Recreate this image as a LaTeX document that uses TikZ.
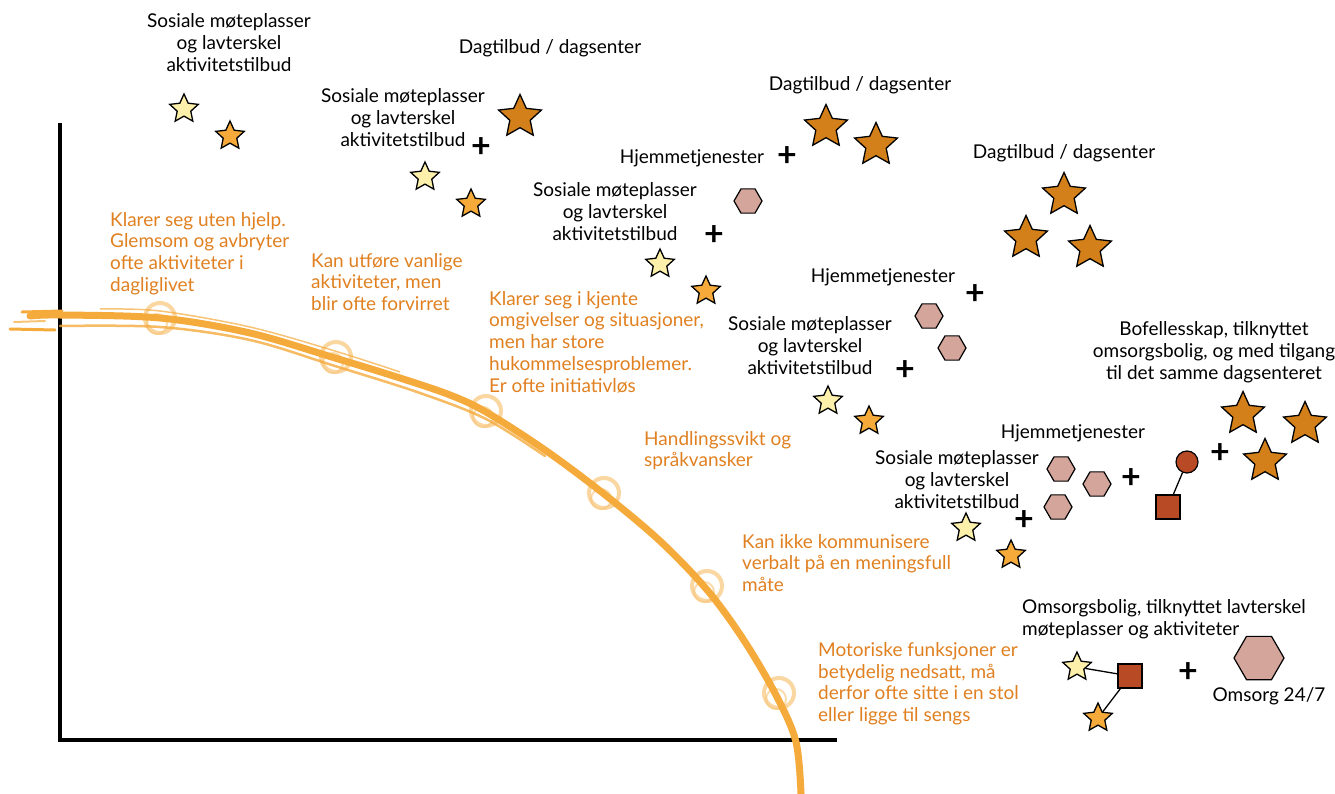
\documentclass[tikz,border=0pt]{standalone}
\usepackage{fontspec}
\setmainfont{Lato}
\usetikzlibrary{shapes.geometric}
\definecolor{txtor}{RGB}{224,128,32}
\definecolor{curvec}{RGB}{245,170,60}
\definecolor{ringc}{RGB}{248,196,120}
\definecolor{starlt}{RGB}{252,240,170}
\definecolor{staror}{RGB}{245,170,58}
\definecolor{stardk}{RGB}{212,128,26}
\definecolor{hexc}{RGB}{212,165,155}
\definecolor{redc}{RGB}{184,74,37}
\tikzset{
  blk/.style={font=\fontsize{19}{22}\selectfont, text=black, inner sep=0pt, align=center, anchor=north},
  orn/.style={font=\fontsize{19}{21.8}\selectfont, text=txtor, inner sep=0pt, align=left, anchor=north west},
  starbase/.style={star, star points=5, star point ratio=2.1, draw=black, line width=1.3pt, inner sep=0pt},
  slt/.style={starbase, fill=starlt, minimum size=30pt},
  sor/.style={starbase, fill=staror, minimum size=30pt},
  sdk/.style={starbase, fill=stardk, minimum size=45pt},
  hexs/.style={regular polygon, regular polygon sides=6, draw=black, line width=1.2pt, fill=hexc, inner sep=0pt, minimum size=28pt},
  hexb/.style={hexs, minimum size=50pt},
  sqr/.style={rectangle, draw=black, line width=1.2pt, fill=redc, minimum size=24pt, inner sep=0pt},
  circr/.style={circle, draw=black, line width=1.2pt, fill=redc, minimum size=22pt, inner sep=0pt},
  plusn/.style={font=\fontsize{34}{34}\selectfont\bfseries, inner sep=0pt, text=black},
  ring/.style={draw=ringc, line width=4pt, opacity=0.7},
  ringi/.style={draw=ringc, line width=2pt, opacity=0.6},
  conn/.style={draw=black, line width=1.3pt},
}
\begin{document}
\begin{tikzpicture}[x=1pt,y=-1pt]
\useasboundingbox (0,0) rectangle (1335,794);
% axes
\coordinate (ytop) at (60,123);
\coordinate (orig) at (60,740);
\coordinate (xend) at (837,740);
\draw[line width=4pt] (ytop) -- (orig) -- (xend);
% rings
\foreach \cx/\cy in {160/318, 336/357, 486/411, 604/493, 707/586, 779/693}{
  \draw[ring] (\cx,\cy) circle (15);
  \draw[ringi] (\cx-3,\cy+6) circle (10);
}
% curve
\draw[curvec, line width=7pt, line cap=round] plot[smooth, tension=0.55] coordinates {(30,316) (60,315) (160,318) (250,333) (335,358) (400,378) (450,395) (486,412) (545,450) (604,494) (660,541) (708,591) (745,642) (777,697) (796,742) (801,794)};
\draw[curvec, line width=2.5pt, line cap=round, opacity=0.8] plot[smooth, tension=0.55] coordinates {(60,326) (160,327) (250,340) (335,366) (420,393) (486,419) (545,456)};
\draw[curvec, line width=1.5pt, opacity=0.7] plot[smooth, tension=0.55] coordinates {(100,309) (160,311) (250,327) (335,351) (400,372)};
\draw[curvec, line width=3pt, line cap=round] (22,312) -- (62,311);
\draw[curvec, line width=3pt, line cap=round] (10,329) -- (55,330);
\draw[curvec, line width=2pt, line cap=round, opacity=0.7] (14,322) -- (45,321);
% orange texts
\node[orn] (o1) at (110,212) {Klarer seg uten hjelp.\\Glemsom og avbryter\\ofte aktiviteter i\\dagliglivet};
\node[orn] (o2) at (311,253) {Kan utføre vanlige\\aktiviteter, men\\blir ofte forvirret};
\node[orn] (o3) at (489,291) {Klarer seg i kjente\\omgivelser og situasjoner,\\men har store\\hukommelsesproblemer.\\Er ofte initiativløs};
\node[orn] (o4) at (644,431) {Handlingssvikt og\\språkvansker};
\node[orn] (o5) at (742,534) {Kan ikke kommunisere\\verbalt på en meningsfull\\måte};
\node[orn] (o6) at (818,642) {Motoriske funksjoner er\\betydelig nedsatt, må\\derfor ofte sitte i en stol\\eller ligge til sengs};
% stage 1
\node[blk] (t1) at (229,13) {Sosiale møteplasser\\og lavterskel\\aktivitetstilbud};
\node[slt] (s1a) at (184,109) {};
\node[sor] (s1b) at (230,136) {};
% stage 2
\node[blk] (d2) at (550,39) {Dagtilbud / dagsenter};
\node[blk] (t2) at (403,88) {Sosiale møteplasser\\og lavterskel\\aktivitetstilbud};
\node[plusn] (p2) at (481,148) {+};
\node[sdk] (b2) at (520,117) {};
\node[slt] (s2a) at (425,177) {};
\node[sor] (s2b) at (471,204) {};
% stage 3
\node[blk] (d3) at (860,76) {Dagtilbud / dagsenter};
\node[sdk] (b3a) at (826,127) {};
\node[sdk] (b3b) at (876,145) {};
\node[blk] (h3) at (692,149) {Hjemmetjenester};
\node[plusn] (p3a) at (787,157) {+};
\node[hexs] (x3) at (748,201) {};
\node[blk] (t3) at (615,182) {Sosiale møteplasser\\og lavterskel\\aktivitetstilbud};
\node[plusn] (p3b) at (714,236) {+};
\node[slt] (s3a) at (660,264) {};
\node[sor] (s3b) at (706,291) {};
% stage 4
\node[blk] (d4) at (1064,144) {Dagtilbud / dagsenter};
\node[sdk] (b4a) at (1064,195) {};
\node[sdk] (b4b) at (1026,238) {};
\node[sdk] (b4c) at (1090,248) {};
\node[blk] (h4) at (883,268) {Hjemmetjenester};
\node[plusn] (p4a) at (975,295) {+};
\node[hexs] (x4a) at (929,316) {};
\node[hexs] (x4b) at (952,348) {};
\node[blk] (t4) at (810,316) {Sosiale møteplasser\\og lavterskel\\aktivitetstilbud};
\node[plusn] (p4b) at (905,371) {+};
\node[slt] (s4a) at (828,401) {};
\node[sor] (s4b) at (869,421) {};
% stage 5
\node[blk] (bo) at (1214,321) {Bofellesskap, tilknyttet\\omsorgsbolig, og med tilgang\\til det samme dagsenteret};
\node[sdk] (b5a) at (1243,414) {};
\node[sdk] (b5b) at (1305,424) {};
\node[sdk] (b5c) at (1265,461) {};
\node[plusn] (p5a) at (1220,454) {+};
\node[blk] (h5) at (1073,424) {Hjemmetjenester};
\node[blk] (t5) at (957,450) {Sosiale møteplasser\\og lavterskel\\aktivitetstilbud};
\node[hexs] (x5a) at (1061,469) {};
\node[hexs] (x5b) at (1097,484) {};
\node[hexs] (x5c) at (1058,507) {};
\node[plusn] (p5b) at (1131,479) {+};
\node[plusn] (p5c) at (1024,521) {+};
\node[circr] (c5) at (1187,462) {};
\node[sqr] (q5) at (1168,507) {};
\draw[conn] (c5) -- (q5);
\node[slt] (s5a) at (966,528) {};
\node[sor] (s5b) at (1011,555) {};
% stage 6
\node[blk, align=left, anchor=north west] (om) at (1022,599) {Omsorgsbolig, tilknyttet lavterskel\\møteplasser og aktiviteter};
\node[slt] (s6a) at (1077,667) {};
\node[sqr] (q6) at (1130,676) {};
\node[sor] (s6b) at (1098,718) {};
\draw[conn] (s6a) -- (q6);
\draw[conn] (q6) -- (s6b);
\node[plusn] (p6) at (1188,673) {+};
\node[hexb] (x6) at (1259,658) {};
\node[blk, anchor=center] (o247) at (1269,696) {Omsorg 24/7};
\end{tikzpicture}
\end{document}
